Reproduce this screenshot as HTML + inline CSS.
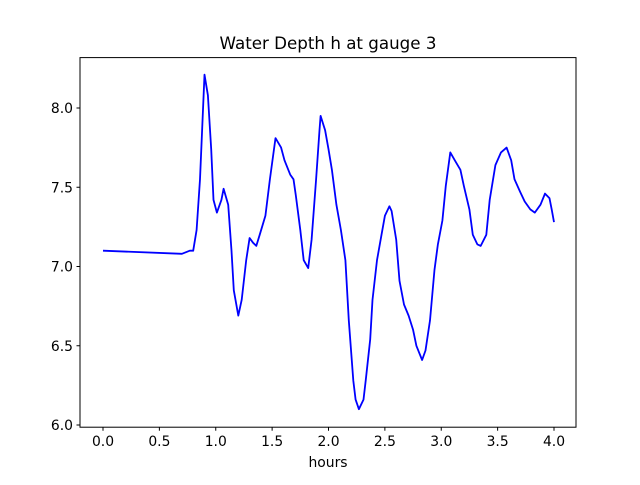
<!DOCTYPE html>
<html><head><meta charset="utf-8"><style>
body{margin:0;background:#fff;}
svg text{font-family:"DejaVu Sans","Liberation Sans",sans-serif;fill:#000;}
</style></head><body>
<svg id="chart" width="640" height="480" xmlns="http://www.w3.org/2000/svg">
<rect width="640" height="480" fill="#fff"/>
<text x="328" y="49" font-size="16.7" text-anchor="middle">Water Depth h at gauge 3</text>
<g id="xticks"></g><g id="yticks"></g>
<polyline id="series" fill="none" stroke="#0000ff" stroke-width="1.8" stroke-linejoin="round"/>
<rect x="80" y="57.6" width="496" height="369.6" fill="none" stroke="#000" stroke-width="1"/>
<text x="328" y="467" font-size="13.9" text-anchor="middle">hours</text>
</svg>
<script>
const hours=[0,0.70,0.77,0.80,0.83,0.86,0.90,0.93,0.96,0.98,1.01,1.05,1.07,1.11,1.14,1.16,1.20,1.23,1.27,1.30,1.33,1.36,1.39,1.44,1.48,1.53,1.58,1.61,1.66,1.69,1.71,1.75,1.78,1.82,1.85,1.89,1.92,1.93,1.97,2.00,2.03,2.07,2.11,2.15,2.18,2.22,2.24,2.27,2.31,2.33,2.37,2.39,2.43,2.47,2.50,2.54,2.56,2.60,2.63,2.67,2.71,2.75,2.78,2.83,2.86,2.90,2.94,2.97,3.01,3.04,3.08,3.12,3.17,3.20,3.25,3.28,3.32,3.35,3.40,3.43,3.48,3.53,3.58,3.62,3.65,3.70,3.74,3.79,3.83,3.88,3.92,3.96,3.98,4.0];
const depth=[7.10,7.08,7.10,7.10,7.23,7.55,8.21,8.08,7.74,7.42,7.34,7.42,7.49,7.39,7.10,6.85,6.69,6.79,7.04,7.18,7.15,7.13,7.20,7.32,7.55,7.81,7.75,7.67,7.58,7.55,7.45,7.23,7.04,6.99,7.17,7.55,7.86,7.95,7.86,7.74,7.61,7.39,7.23,7.04,6.66,6.28,6.16,6.10,6.16,6.28,6.54,6.79,7.04,7.20,7.32,7.38,7.35,7.17,6.91,6.76,6.69,6.60,6.50,6.41,6.47,6.66,6.98,7.14,7.29,7.51,7.72,7.67,7.61,7.51,7.36,7.20,7.14,7.13,7.20,7.42,7.64,7.72,7.75,7.67,7.55,7.47,7.41,7.36,7.34,7.39,7.46,7.43,7.36,7.28];
const xTicks=[0,0.5,1.0,1.5,2.0,2.5,3.0,3.5,4.0];
const xTickLabels=["0.0","0.5","1.0","1.5","2.0","2.5","3.0","3.5","4.0"];
const yTicks=[6.0,6.5,7.0,7.5,8.0];
const yTickLabels=["6.0","6.5","7.0","7.5","8.0"];
const NS="http://www.w3.org/2000/svg";
function xs(h){return 103+h*112.75;}
function ys(v){return 425-(v-6)*158.5;}
const pl=document.getElementById('series');
pl.setAttribute('points',hours.map((h,i)=>xs(h).toFixed(1)+','+ys(depth[i]).toFixed(1)).join(' '));
const xg=document.getElementById('xticks');
xTicks.forEach((t,i)=>{
 const l=document.createElementNS(NS,'line');
 
 
 l.setAttribute('x1',xs(t));l.setAttribute('x2',xs(t));l.setAttribute('y1',427.2);l.setAttribute('y2',430.7);l.setAttribute('stroke','#000');
 xg.appendChild(l);
 const tx=document.createElementNS(NS,'text');
 
 
 tx.setAttribute('x',xs(t));tx.setAttribute('y',446);tx.setAttribute('font-size','13.9');tx.setAttribute('text-anchor','middle');
 tx.textContent=xTickLabels[i];xg.appendChild(tx);
});
const yg=document.getElementById('yticks');
yTicks.forEach((t,i)=>{
 const l=document.createElementNS(NS,'line');
 
 
 l.setAttribute('x1',76.5);l.setAttribute('x2',80);l.setAttribute('y1',ys(t));l.setAttribute('y2',ys(t));l.setAttribute('stroke','#000');
 yg.appendChild(l);
 const tx=document.createElementNS(NS,'text');
 
 
 tx.setAttribute('x',73);tx.setAttribute('y',ys(t)+5);tx.setAttribute('font-size','13.9');tx.setAttribute('text-anchor','end');
 tx.textContent=yTickLabels[i];yg.appendChild(tx);
});
</script>
</body></html>
